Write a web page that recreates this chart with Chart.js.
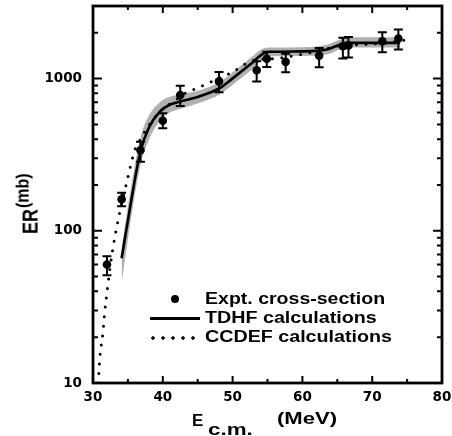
<!DOCTYPE html>
<html>
<head>
<meta charset="utf-8">
<script src="https://cdn.jsdelivr.net/npm/chart.js@4.4.1/dist/chart.umd.min.js"></script>
<style>
  html, body { margin: 0; padding: 0; background: #fff; }
  #wrap { position: relative; width: 452px; height: 436px; overflow: hidden; }
  #chart { position: absolute; left: 0; top: 0; }
  .txt {
    position: absolute;
    font-family: 'Liberation Sans', Arial, sans-serif;
    font-weight: bold;
    color: #000;
    white-space: nowrap;
    transform-origin: 0 0;
  }
  .sym { position: absolute; }
</style>
</head>
<body>
<div id="wrap">
  <canvas id="chart" width="470" height="436"></canvas>

  <!-- axis titles -->
  <div class="txt" id="ytitle" style="left:20px; top:234px; font-size:18px; line-height:18px; transform: rotate(-90deg) scaleY(1.2);">ER<span style="font-size:16px; position:relative; top:-8px; margin-left:1px;">(mb)</span></div>
  <div class="txt" style="left:192px; top:412px; font-size:17px; line-height:17px; transform: scaleX(1.0);">E</div>
  <div class="txt" style="left:208px; top:422px; font-size:16px; line-height:16px; transform: scaleX(1.4);">c.m.</div>
  <div class="txt" style="left:277px; top:411px; font-size:16px; line-height:16px; transform: scaleX(1.38);">(MeV)</div>

  <!-- legend -->
  <div class="sym" style="left:171px; top:295px; width:8px; height:8px; border-radius:50%; background:#000;"></div>
  <div class="sym" style="left:150px; top:317px; width:50px; height:2.7px; background:#000;"></div>
  <div class="sym" style="left:148px; top:336px; width:50px; height:4px; background: radial-gradient(circle, #000 1.5px, transparent 1.8px) 0 0 / 10px 4px repeat-x;"></div>
  <div class="txt" style="left:205px; top:291px; font-size:16px; line-height:16px; transform: scaleX(1.22);">Expt. cross-section</div>
  <div class="txt" style="left:205px; top:310px; font-size:16px; line-height:16px; transform: scaleX(1.23);">TDHF calculations</div>
  <div class="txt" style="left:205px; top:329px; font-size:16px; line-height:16px; transform: scaleX(1.23);">CCDEF calculations</div>
</div>

<script>
// measured points (E c.m. in MeV, ER in mb)
const exptE = [32.0, 34.1, 36.8, 40.0, 42.5, 48.05, 53.45, 54.9, 57.6, 62.4, 65.8, 66.6, 71.45, 73.75];
const exptER = [60, 161, 338, 529, 781, 959, 1135, 1349, 1289, 1416, 1630, 1650, 1758, 1833];
const exptHi = [68, 178, 385, 592, 896, 1107, 1300, 1500, 1459, 1592, 1854, 1880, 2019, 2099];
const exptLo = [51, 145, 284, 472, 661, 813, 959, 1194, 1099, 1186, 1355, 1375, 1490, 1552];

// TDHF curve and its grey band
const tdhfE = [34.1, 35.5, 36.8, 38.0, 39.6, 41.0, 42.6, 45.3, 48.2, 50.1, 52.5, 54.4, 55.4, 60.0, 63.5, 65.4, 66.3, 74.0];
const tdhfER = [66, 160, 333, 475, 609, 674, 709, 765, 869, 1011, 1236, 1459, 1500, 1510, 1552, 1675, 1718, 1718];
const bandHi = [76, 200, 410, 570, 700, 760, 790, 840, 955, 1110, 1360, 1580, 1600, 1610, 1670, 1810, 1870, 1870];
const bandLo = [45, 125, 270, 395, 530, 600, 635, 695, 790, 920, 1120, 1350, 1400, 1410, 1440, 1560, 1600, 1600];

// CCDEF curve
const ccdefE = [30.75, 31.0, 31.4, 31.7, 32.05, 32.45, 33.15, 33.9, 34.8, 36.0, 36.8, 38.2, 39.6, 41.5, 43.3, 45.3, 47.7, 49.2, 50.1, 52.0, 53.5, 55.0, 56.5, 59.7, 63.0, 64.7, 68.3, 72.0, 75.0];
const ccdefER = [10, 15, 21, 30, 41, 58, 92, 137, 206, 340, 400, 508, 607, 706, 805, 880, 990, 1062, 1112, 1262, 1330, 1345, 1360, 1440, 1550, 1630, 1675, 1720, 1800];

// axis ticks
const xTicks = [30, 40, 50, 60, 70, 80];
const xMinor = [35, 45, 55, 65, 75];
const yTicks = [10, 100, 1000];
const yMinor = [20, 30, 40, 50, 60, 70, 80, 90, 200, 300, 400, 500, 600, 700, 800, 900, 2000];

function pts(xs, ys) {
  return xs.map(function(x, i) {
    return { x: x, y: ys[i] };
  });
}

// error bars, drawn on top of the curves
const errorBars = {
  id: 'errorBars',
  afterDatasetsDraw(chart) {
    const ctx = chart.ctx;
    const xs = chart.scales.x, ys = chart.scales.y;
    ctx.save();
    ctx.strokeStyle = '#000';
    ctx.lineWidth = 2;
    exptE.forEach(function(e, i) {
      const px = xs.getPixelForValue(e);
      const top = ys.getPixelForValue(exptHi[i]);
      const bot = ys.getPixelForValue(exptLo[i]);
      ctx.beginPath();
      ctx.moveTo(px, top); ctx.lineTo(px, bot);
      ctx.moveTo(px - 4.5, top); ctx.lineTo(px + 4.5, top);
      ctx.moveTo(px - 4.5, bot); ctx.lineTo(px + 4.5, bot);
      ctx.stroke();
    });
    ctx.restore();
  }
};

// boxed frame with inward ticks on all four sides
const frame = {
  id: 'frame',
  afterDraw(chart) {
    const ctx = chart.ctx;
    const a = chart.chartArea;
    const xs = chart.scales.x, ys = chart.scales.y;
    ctx.save();
    ctx.strokeStyle = '#000';
    ctx.lineWidth = 2;
    ctx.beginPath();
    function xt(v, len) {
      const p = xs.getPixelForValue(v);
      ctx.moveTo(p, a.bottom); ctx.lineTo(p, a.bottom - len);
      ctx.moveTo(p, a.top); ctx.lineTo(p, a.top + len);
    }
    function yt(v, len) {
      const p = ys.getPixelForValue(v);
      ctx.moveTo(a.left, p); ctx.lineTo(a.left + len, p);
      ctx.moveTo(a.right, p); ctx.lineTo(a.right - len, p);
    }
    xTicks.forEach(function(v) { xt(v, 7); });
    xMinor.forEach(function(v) { xt(v, 4); });
    yTicks.forEach(function(v) { yt(v, 9); });
    yMinor.forEach(function(v) { yt(v, 5); });
    ctx.stroke();
    ctx.lineWidth = 2.8;
    ctx.strokeRect(a.left, a.top, a.right - a.left, a.bottom - a.top);
    ctx.restore();
  }
};

const tickFont = { family: "'DejaVu Sans', sans-serif", size: 13.5, weight: 'bold' };

new Chart(document.getElementById('chart'), {
  type: 'line',
  data: {
    datasets: [
      {
        label: 'Expt. cross-section',
        type: 'scatter',
        data: pts(exptE, exptER),
        showLine: false,
        pointRadius: 4.3,
        pointBackgroundColor: '#000',
        pointBorderColor: '#000',
        pointBorderWidth: 0
      },
      {
        label: 'TDHF calculations',
        data: pts(tdhfE, tdhfER),
        borderColor: '#000',
        borderWidth: 2.6,
        pointRadius: 0,
        cubicInterpolationMode: 'monotone',
        fill: false
      },
      {
        label: 'CCDEF calculations',
        data: pts(ccdefE, ccdefER),
        borderColor: '#000',
        borderWidth: 3,
        borderDash: [0, 9.5],
        borderCapStyle: 'round',
        pointRadius: 0,
        cubicInterpolationMode: 'monotone',
        fill: false
      },
      {
        label: 'band hi',
        data: pts(tdhfE, bandHi),
        borderWidth: 0,
        borderColor: 'rgba(0,0,0,0)',
        backgroundColor: '#b0b0b0',
        pointRadius: 0,
        cubicInterpolationMode: 'monotone',
        fill: '+1'
      },
      {
        label: 'band lo',
        data: pts(tdhfE, bandLo),
        borderWidth: 0,
        borderColor: 'rgba(0,0,0,0)',
        pointRadius: 0,
        cubicInterpolationMode: 'monotone',
        fill: false
      }
    ]
  },
  options: {
    responsive: false,
    devicePixelRatio: 1,
    animation: false,
    layout: { padding: { left: 0, top: 6, right: 28, bottom: 0 } },
    plugins: {
      legend: { display: false },
      tooltip: { enabled: false }
    },
    scales: {
      x: {
        type: 'linear',
        min: 30,
        max: 80,
        afterBuildTicks: function(s) { s.ticks = xTicks.map(function(v) { return { value: v }; }); },
        afterFit: function(s) {
          s.height = 53;
          s.paddingLeft = 0;
          s.paddingRight = 0;
        },
        grid: { display: false, drawTicks: false, tickLength: 0 },
        border: { display: false },
        ticks: { font: tickFont, color: '#000', padding: 6, maxRotation: 0 }
      },
      y: {
        type: 'logarithmic',
        min: 10,
        max: 3000,
        afterBuildTicks: function(s) { s.ticks = yTicks.map(function(v) { return { value: v }; }); },
        afterFit: function(s) {
          s.width = 93;
          s.paddingTop = 0;
          s.paddingBottom = 0;
        },
        grid: { display: false, drawTicks: false, tickLength: 0 },
        border: { display: false },
        ticks: {
          font: tickFont,
          color: '#000',
          padding: 11,
          callback: function(v) { return String(v); }
        }
      }
    }
  },
  plugins: [errorBars, frame]
});
</script>
</body>
</html>
